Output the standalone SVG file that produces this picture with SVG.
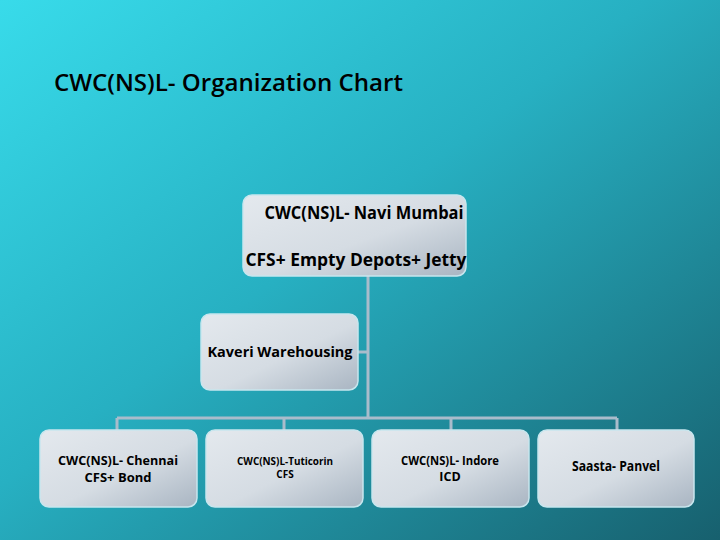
<svg xmlns="http://www.w3.org/2000/svg" width="720" height="540" viewBox="0 0 720 540">
<defs>
<linearGradient id="bg" x1="0" y1="0" x2="1" y2="1">
<stop offset="0" stop-color="#38dbea"/>
<stop offset="0.45" stop-color="#27b0c2"/>
<stop offset="1" stop-color="#17606e"/>
</linearGradient>
<linearGradient id="box" x1="0" y1="0" x2="1" y2="1">
<stop offset="0" stop-color="#e4e9ee"/>
<stop offset="0.55" stop-color="#d5dce3"/>
<stop offset="1" stop-color="#a9b5c2"/>
</linearGradient>
<style>
.b{fill:url(#box);stroke:#c8e6ee;stroke-width:1.5}
.t{font-family:"Open Sans","DejaVu Sans",sans-serif;font-weight:700;fill:#000;text-anchor:middle;lengthAdjust:spacingAndGlyphs}
.c{stroke:#a9bccb;stroke-width:3;fill:none}
</style>
</defs>
<rect width="720" height="540" fill="url(#bg)"/>
<text x="54" y="91" font-family="Open Sans, DejaVu Sans, sans-serif" font-weight="600" font-size="23" fill="#000" textLength="349" lengthAdjust="spacingAndGlyphs">CWC(NS)L- Organization Chart</text>
<g id="connectors">
<path class="c" d="M368 276V418M358 352H368M117 418H617M117 418V430M284 418V430M451 418V430M617 418V430"/>
</g>
<g id="navi-mumbai">
<rect class="b" x="243" y="195" width="223" height="81" rx="9"/>
<text class="t" x="364" y="219" font-size="17" textLength="199" lengthAdjust="spacingAndGlyphs">CWC(NS)L- Navi Mumbai</text>
<text class="t" x="356" y="266" font-size="17" textLength="221" lengthAdjust="spacingAndGlyphs">CFS+ Empty Depots+ Jetty</text>
</g>
<g id="kaveri">
<rect class="b" x="201" y="314" width="157" height="76" rx="9"/>
<text class="t" x="280" y="357" font-size="15" textLength="145" lengthAdjust="spacingAndGlyphs">Kaveri Warehousing</text>
</g>
<g id="chennai">
<rect class="b" x="40" y="430" width="157" height="77" rx="9"/>
<text class="t" x="118" y="465" font-size="13" textLength="120" lengthAdjust="spacingAndGlyphs">CWC(NS)L- Chennai</text>
<text class="t" x="118" y="482" font-size="13">CFS+ Bond</text>
</g>
<g id="tuticorin">
<rect class="b" x="206" y="430" width="157" height="77" rx="9"/>
<text class="t" x="285" y="465" font-size="10" textLength="96" lengthAdjust="spacingAndGlyphs">CWC(NS)L-Tuticorin</text>
<text class="t" x="285" y="478" font-size="10">CFS</text>
</g>
<g id="indore">
<rect class="b" x="372" y="430" width="157" height="77" rx="9"/>
<text class="t" x="450" y="465" font-size="12.5" textLength="98" lengthAdjust="spacingAndGlyphs">CWC(NS)L- Indore</text>
<text class="t" x="450" y="481" font-size="12.5">ICD</text>
</g>
<g id="panvel">
<rect class="b" x="538" y="430" width="156" height="77" rx="9"/>
<text class="t" x="616" y="471" font-size="14" textLength="88" lengthAdjust="spacingAndGlyphs">Saasta- Panvel</text>
</g>
</svg>
